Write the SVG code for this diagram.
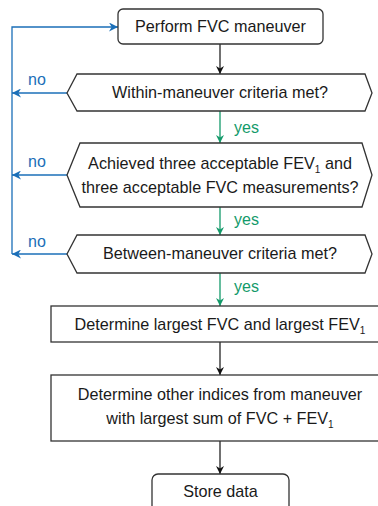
<svg xmlns="http://www.w3.org/2000/svg" width="378" height="506" viewBox="0 0 378 506">
<defs>
<marker id="ab" viewBox="0 0 10 10" refX="10" refY="5" markerWidth="8" markerHeight="8" markerUnits="userSpaceOnUse" orient="auto"><path d="M0,0 L10,5 L0,10 L3,5 Z" fill="#111"/></marker>
<marker id="ag" viewBox="0 0 10 10" refX="10" refY="5" markerWidth="8" markerHeight="8" markerUnits="userSpaceOnUse" orient="auto"><path d="M0,0 L10,5 L0,10 L3,5 Z" fill="#139a6a"/></marker>
<marker id="au" viewBox="0 0 10 10" refX="10" refY="5" markerWidth="9" markerHeight="9" markerUnits="userSpaceOnUse" orient="auto"><path d="M0,0 L10,5 L0,10 L3,5 Z" fill="#1b6fb8"/></marker>
</defs>
<style>
.n{fill:#fff;stroke:#333;stroke-width:1.3}
.t{font-family:"Liberation Sans",Arial,sans-serif;font-size:16.2px;fill:#1a1a1a;text-anchor:middle}
.s{font-size:10px}
.k{stroke:#111;stroke-width:1.2;fill:none}
.g{stroke:#139a6a;stroke-width:1.3;fill:none}
.b{stroke:#1b6fb8;stroke-width:1.3;fill:none}
.gl{font-family:"Liberation Sans",Arial,sans-serif;font-size:16px;fill:#139a6a}
.bl{font-family:"Liberation Sans",Arial,sans-serif;font-size:16px;fill:#1b6fb8}
</style>
<g id="connectors">
<path class="k" d="M220,44 V74" marker-end="url(#ab)"/>
<path class="g" d="M220,111 V143" marker-end="url(#ag)"/>
<path class="g" d="M220,207 V235" marker-end="url(#ag)"/>
<path class="g" d="M220,273 V306" marker-end="url(#ag)"/>
<path class="k" d="M220,342 V375" marker-end="url(#ab)"/>
<path class="k" d="M220,441 V474" marker-end="url(#ab)"/>
<path class="b" d="M12,254 V27 H118" marker-end="url(#au)"/>
<path class="b" d="M67,93 H12" marker-end="url(#au)"/>
<path class="b" d="M67,175 H12" marker-end="url(#au)"/>
<path class="b" d="M67,254 H12" marker-end="url(#au)"/>
<text class="gl" x="234" y="133">yes</text>
<text class="gl" x="234" y="225">yes</text>
<text class="gl" x="234" y="292">yes</text>
<text class="bl" x="28" y="85">no</text>
<text class="bl" x="28" y="167">no</text>
<text class="bl" x="28" y="247">no</text>
</g>
<g id="perform">
<rect class="n" x="118" y="9" width="205" height="35" rx="5"/>
<text class="t" x="220.5" y="32">Perform FVC maneuver</text>
</g>
<g id="within">
<polygon class="n" points="67,93 77,74 365,74 372,93 365,111 77,111"/>
<text class="t" x="220" y="98">Within-maneuver criteria met?</text>
</g>
<g id="achieved">
<polygon class="n" points="67,175 80,143 362,143 372,175 362,207 80,207"/>
<text class="t" x="220" y="169">Achieved three acceptable FEV<tspan class="s" dy="4">1</tspan><tspan dy="-4"> and</tspan></text>
<text class="t" x="220" y="193">three acceptable FVC measurements?</text>
</g>
<g id="between">
<polygon class="n" points="67,254 77,235 365,235 372,254 365,273 77,273"/>
<text class="t" x="220" y="259">Between-maneuver criteria met?</text>
</g>
<g id="largest">
<rect class="n" x="51" y="306" width="340" height="36"/>
<text class="t" x="220" y="330">Determine largest FVC and largest FEV<tspan class="s" dy="4">1</tspan></text>
</g>
<g id="other">
<rect class="n" x="51" y="375" width="340" height="66"/>
<text class="t" x="220" y="400">Determine other indices from maneuver</text>
<text class="t" x="220" y="424">with largest sum of FVC + FEV<tspan class="s" dy="4">1</tspan></text>
</g>
<g id="store">
<rect class="n" x="152" y="474" width="137" height="45" rx="6"/>
<text class="t" x="220.5" y="497">Store data</text>
</g>
</svg>
